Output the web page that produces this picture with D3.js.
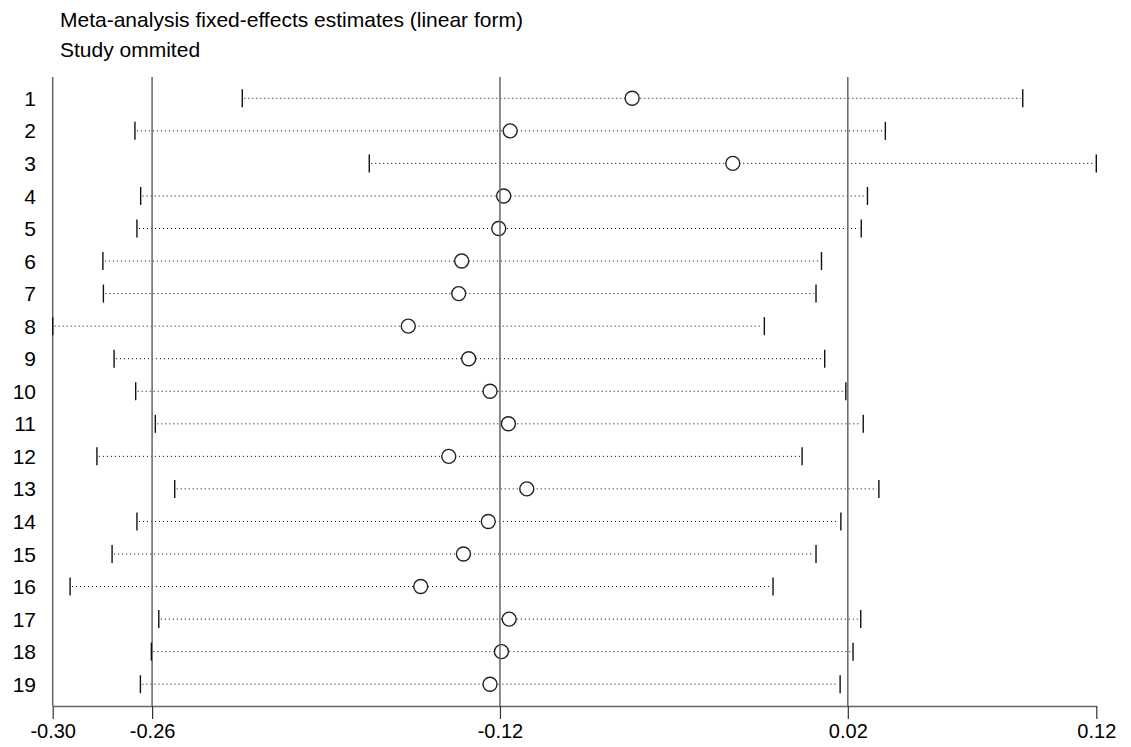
<!DOCTYPE html>
<html>
<head>
<meta charset="utf-8">
<script src="https://cdn.jsdelivr.net/npm/d3@7"></script>
<style>
  body { margin: 0; background: #fff; }
  text { font-family: "Liberation Sans", Arial, Helvetica, sans-serif; fill: #000; }
</style>
</head>
<body>
<div id="chart"></div>
<script>
// study omitted (row labels)
var studies = d3.range(1, 20).map(String);

// estimates with study left out
var estimate = [-0.0668, -0.1159, -0.0263, -0.1185, -0.1205, -0.1354, -0.1366, -0.1569, -0.1326, -0.1240,
                -0.1166, -0.1406, -0.1092, -0.1247, -0.1347, -0.1519, -0.1163, -0.1194, -0.1240];
// lower and upper confidence limits
var lower = [-0.2237, -0.2669, -0.1726, -0.2646, -0.2661, -0.2798, -0.2796, -0.3000, -0.2753, -0.2666,
             -0.2587, -0.2822, -0.2509, -0.2661, -0.2761, -0.2930, -0.2573, -0.2603, -0.2647];
var upper = [0.0904, 0.0351, 0.1200, 0.0279, 0.0254, 0.0094, 0.0072, -0.0136, 0.0107, 0.0192,
             0.0262, 0.0016, 0.0325, 0.0172, 0.0072, -0.0101, 0.0252, 0.0221, 0.0169];

// axis ticks and reference lines
var xTicks = [-0.30, -0.26, -0.12, 0.02, 0.12];
var refLines = [-0.26, -0.12, 0.02];

var w = 1131, h = 747;
var plotTop = 77, plotBottom = 706;

var svg = d3.select("#chart").append("svg")
    .attr("width", w)
    .attr("height", h);

var x = d3.scaleLinear()
    .domain([-0.30, 0.12])
    .range([52.7, 1096.3]);

var y = d3.scalePoint()
    .domain(studies)
    .range([98.3, 684.2]);

// titles
svg.append("text").attr("x", 60).attr("y", 27).style("font-size", "21px")
  .text("Meta-analysis fixed-effects estimates (linear form)");
svg.append("text").attr("x", 60).attr("y", 57).style("font-size", "21px")
  .text("Study ommited");

var rows = studies.map(function(s, i) {
  return {s: s, est: estimate[i], lo: lower[i], hi: upper[i]};
});

// dotted interval lines
svg.selectAll(".ci")
  .data(rows)
  .enter().append("line")
  .attr("x1", d => x(d.lo) + 2)
  .attr("x2", d => x(d.hi) - 2)
  .attr("y1", d => y(d.s))
  .attr("y2", d => y(d.s))
  .attr("stroke", "#000")
  .attr("stroke-width", 1)
  .attr("stroke-dasharray", "1,3");

// point estimates
svg.selectAll(".est")
  .data(rows)
  .enter().append("circle")
  .attr("cx", d => x(d.est))
  .attr("cy", d => y(d.s))
  .attr("r", 7)
  .attr("fill", "#fff")
  .attr("stroke", "#222")
  .attr("stroke-width", 1.4);

// reference lines and left axis
svg.selectAll(".ref")
  .data(refLines)
  .enter().append("line")
  .attr("x1", d => x(d)).attr("x2", d => x(d))
  .attr("y1", plotTop).attr("y2", plotBottom)
  .attr("stroke", "#666")
  .attr("stroke-width", 1.5);

svg.append("line")
  .attr("x1", x(-0.30)).attr("x2", x(-0.30))
  .attr("y1", plotTop).attr("y2", plotBottom)
  .attr("stroke", "#666")
  .attr("stroke-width", 1.5);

// caps at interval ends
["lo", "hi"].forEach(function(k) {
  svg.selectAll(".cap-" + k)
    .data(rows)
    .enter().append("line")
    .attr("x1", d => x(d[k])).attr("x2", d => x(d[k]))
    .attr("y1", d => y(d.s) - 9)
    .attr("y2", d => y(d.s) + 9)
    .attr("stroke", "#111")
    .attr("stroke-width", 1.4);
});

// row labels
svg.selectAll(".lab")
  .data(studies)
  .enter().append("text")
  .attr("x", 36)
  .attr("y", d => y(d))
  .attr("dy", "0.36em")
  .attr("text-anchor", "end")
  .style("font-size", "21px")
  .text(d => d);

// x axis
var xAxis = d3.axisBottom(x)
  .tickValues(xTicks)
  .tickFormat(d3.format(".2f"))
  .tickSize(13)
  .tickSizeOuter(0)
  .tickPadding(5);

var gx = svg.append("g")
  .attr("transform", "translate(0," + plotBottom + ")")
  .call(xAxis);

gx.select(".domain").attr("stroke", "#666").attr("stroke-width", 1.5);
gx.selectAll(".tick line").attr("stroke", "#333").attr("stroke-width", 1.2);
gx.selectAll(".tick text")
  .style("font-size", "20px")
  .style("font-family", "'Liberation Sans', Arial, sans-serif")
  .attr("fill", "#000")
  .text(d => d3.format(".2f")(d).replace("−", "-"));
</script>
</body>
</html>
